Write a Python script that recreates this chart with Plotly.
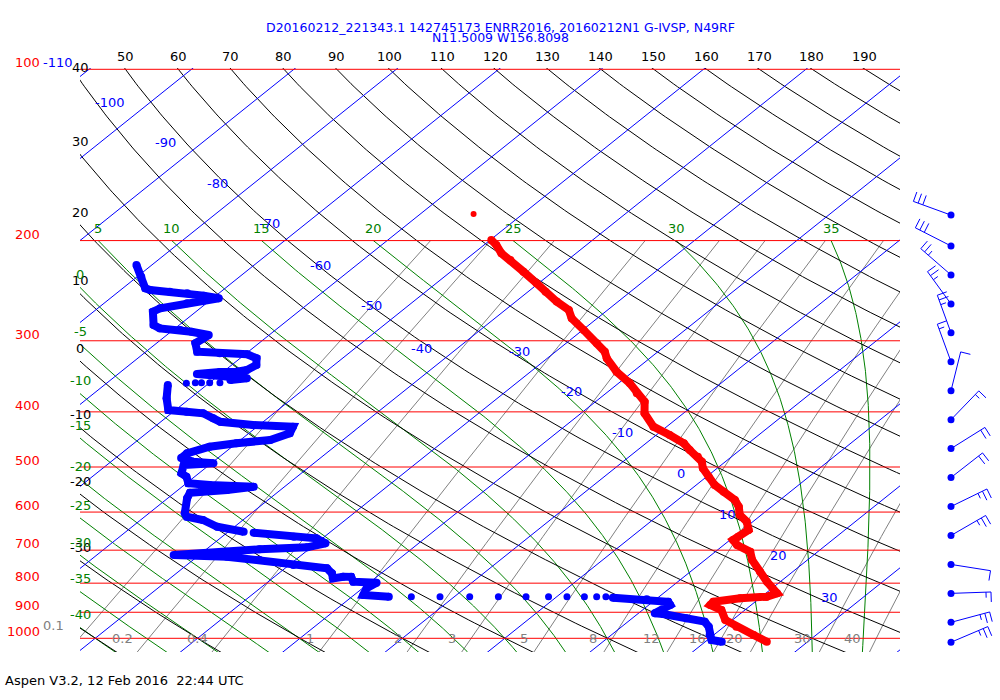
import numpy as np
import plotly.graph_objects as go

# ---------------- data ----------------
temp_p = [199.5, 203.6, 210.5, 216.3, 226.8, 237.7, 245.9, 256.0, 264.8, 273.9,
          287.2, 303.0, 313.5, 322.0, 340.0, 356.3, 371.0, 383.9, 402.3, 424.7,
          439.2, 454.2, 466.8, 479.5, 489.3, 502.5, 520.0, 537.8, 552.6, 571.4,
          587.1, 607.1, 623.8, 645.1, 662.8, 671.8, 685.5, 704.3, 728.4, 763.8,
          795.3, 833.5, 845.1, 850.5, 862.4, 874.0, 891.9, 928.6, 954.1, 986.7,
          1013.8]
temp_t = [-49.9, -48.8, -47.3, -45.6, -42.9, -40.2, -38.3, -36.0, -33.8, -32.5,
          -29.9, -27.0, -25.2, -24.2, -21.6, -18.9, -17.0, -15.2, -13.8, -11.3,
          -8.7, -6.3, -4.9, -3.3, -2.3, -1.4, 0.2, 1.8, 3.5, 5.6,
          6.8, 7.9, 9.4, 10.6, 10.4, 10.3, 11.3, 13.4, 14.6, 16.8,
          18.7, 21.1, 20.5, 18.1, 15.9, 16.0, 17.7, 19.3, 21.2, 23.9,
          26.0]
temp_dot_p = [179.6]
temp_dot_t = [-54.8]

dew_p = [220.8, 231.5, 242.6, 244.3, 245.9, 247.5, 249.9, 252.6, 257.7, 263.0,
         266.7, 281.5, 285.3, 287.2, 289.2, 293.1, 303.0, 313.5, 315.6, 316.9,
         322.0, 330.9, 337.7, 340.0, 340.5, 343.2, 349.2, 351.6, None,
         358.8, 378.6, 397.0, 399.8, 402.3, 410.6, 416.3, 421.9, 424.7, 436.2,
         448.2, 454.2, 460.5, 473.0, 482.1, 489.3, 492.5, 495.9, 512.9, 520.0,
         534.1, 537.8, 541.6, 548.8, 554.8, 567.5, 603.0, 611.3, 619.6, 636.7,
         649.7, None,
         652.3, 662.8, 667.2, 680.8, 692.0, 697.6, 704.3, 713.8, 718.7, 728.4,
         743.3, 753.4, 768.8, 784.6, 779.4, 779.8, 795.3, 798.6, 816.8, 839.3,
         845.1, None,
         848.4, 854.1, 862.4, 874.0, 891.9, 903.9, 906.4, 922.4, 935.0, 954.1,
         986.7, 1007.0, 1013.8]
dew_t = [-81.5, -79.6, -77.8, -77.1, -75.0, -73.1, -71.2, -69.4, -71.9, -73.9,
         -74.2, -72.5, -71.5, -69.3, -68.0, -65.9, -66.2, -65.0, -62.6, -59.8,
         -58.4, -57.6, -57.9, -58.7, -60.3, -62.3, -56.9, -58.3, None,
         -63.8, -62.3, -60.7, -58.7, -56.9, -55.3, -54.2, -50.6, -46.5, -46.0,
         -47.1, -50.0, -52.2, -53.6, -53.6, -52.0, -49.8, -52.5, -51.7, -50.8,
         -49.8, -47.5, -43.0, -45.2, -48.5, -48.1, -46.5, -45.9, -43.9, -41.7,
         -38.5, None,
         -37.4, -33.0, -30.6, -29.1, -30.4, -34.8, -37.7, -42.5, -37.1, -33.5,
         -29.6, -25.9, -24.8, -24.1, -23.3, -22.5, -21.7, -19.3, -19.6, -19.1,
         -16.4, None,
         5.6, 9.1, 11.5, 12.1, 11.9, 11.6, 12.5, 15.3, 17.5, 18.5,
         19.6, 20.4, 21.6]
dew_dot_p = [355.4, 355.4, 355.4, 355.4, 356.3,
             845.1, 845.1, 845.1, 845.1, 845.1, 845.1, 845.1, 845.1, 845.1, 845.1]
dew_dot_t = [-59.0, -60.0, -60.8, -61.4, -62.2,
             -14.2, -11.4, -8.5, -5.7, -3.0, -0.8, 1.0, 2.7, 3.9, 4.8]

wind_p = [180.4, 204.4, 229.8, 258.5, 290.5, 326.6, 367.2, 412.8,
          464.1, 521.8, 586.7, 659.6, 741.6, 833.8, 937.4, 1016.0]
wind_dir = [290, 297, 311, 324, 340, 340, 14, 44, 58, 52, 64, 60, 99, 88, 75, 67]
wind_spd = [30, 30, 25, 25, 25, 15, 10, 15, 20, 20, 25, 25, 10, 15, 25, 25]

isobar_levels = [100, 200, 300, 400, 500, 600, 700, 800, 900, 1000]
isotherm_values = list(range(-120, 50, 10))
iso_label_t = [-110, -100, -90, -80, -70, -60, -50, -40, -30, -20, -10, 0, 10, 20, 30]
iso_label_p = [97.1, 114.2, 134.7, 159.0, 187.0, 220.8, 260.6, 308.9,
               313.9, 369.0, 435.7, 514.3, 607.1, 716.7, 846.2]
theta_values = list(range(-40, 200, 10))
theta_top_labels = list(range(50, 200, 10))
theta_left_labels = [40, 30, 20, 10, 0, -10, -20, -30]
thetaw_values = list(range(-40, 40, 5))
thetaw_top_labels = [5, 10, 15, 20, 25, 30, 35]
thetaw_left_labels = [0, -5, -10, -15, -20, -25, -30, -35, -40]
mixr_values = [0.1, 0.2, 0.4, 1, 2, 3, 5, 8, 12, 16, 20, 30, 40]
mixr_labels = ["0.1", "0.2", "0.4", "1", "2", "3", "5", "8", "12", "16", "20", "30", "40"]

title_line1 = "D20160212_221343.1 142745173 ENRR2016, 20160212N1 G-IVSP, N49RF"
title_line2 = "N11.5009 W156.8098"
footer_text = "Aspen V3.2, 12 Feb 2016 \u00a022:44 UTC"

# ---------------- geometry ----------------
W, H = 1000, 700
ML, MR, MT, MB = 80, 0, 68, 48
PLOT_W = W - ML - MR
PLOT_H = H - MT - MB
PXDEC = 569.0
Y100 = 69.3
LOG_TOP = 2 - (Y100 - MT) / PXDEC
LOG_BOT = LOG_TOP + PLOT_H / PXDEC
PX_PER_C = 10.24
X0PX = 504.8
SKEW = 69.40
RIGHT_PX = 900.0
XL = (ML - X0PX) / PX_PER_C
XR = (RIGHT_PX - X0PX) / PX_PER_C
KAPPA = 0.2875
P_TOP_EXT, P_BOT_EXT = 95.0, 1075.0

FONT = "DejaVu Sans"
RED, BLUE, GREEN, GRAY, BLACK = "#ff0000", "#0000ff", "#008000", "#808080", "#000000"


def skew_x(t, p):
    return np.asarray(t, float) - SKEW * np.log10(np.asarray(p, float) / 1000.0)


def paper_x(px):
    return (px - ML) / PLOT_W


def paper_y(py):
    return (H - MB - py) / PLOT_H


def data_to_paper(xv, pv):
    return paper_x(X0PX + xv * PX_PER_C), paper_y(Y100 + PXDEC * np.log10(pv / 100.0))


def join(curves):
    xs, ys = [], []
    for x, y in curves:
        xs += list(x) + [None]
        ys += list(y) + [None]
    return xs, ys


# thermodynamics
RD, CP, LV, EPS = 287.04, 1005.7, 2.501e6, 0.622


def esat(tc):
    return 6.112 * np.exp(17.67 * tc / (tc + 243.5))


def moist_dtdp(tk, p):
    es = esat(tk - 273.15)
    r = EPS * es / (p - es)
    num = (RD * tk + LV * r) / p
    den = CP + (LV * LV * r * EPS) / (RD * tk * tk)
    return num / den


def integrate(t0, p0, p1, n):
    ps = np.linspace(p0, p1, n)
    ts = [t0]
    for i in range(n - 1):
        p, h, t = ps[i], ps[i + 1] - ps[i], ts[-1]
        k1 = moist_dtdp(t, p)
        k2 = moist_dtdp(t + h / 2 * k1, p + h / 2)
        k3 = moist_dtdp(t + h / 2 * k2, p + h / 2)
        k4 = moist_dtdp(t + h * k3, p + h)
        ts.append(t + h / 6 * (k1 + 2 * k2 + 2 * k3 + k4))
    return ps, np.array(ts)


def moist_curve(tw):
    pu, tu = integrate(tw + 273.15, 1000.0, 200.0, 321)
    pd, td = integrate(tw + 273.15, 1000.0, P_BOT_EXT, 31)
    p = np.concatenate([pu[::-1], pd[1:]])
    t = np.concatenate([tu[::-1], td[1:]]) - 273.15
    return p, t


def dry_curve(theta):
    p = np.logspace(np.log10(P_TOP_EXT), np.log10(P_BOT_EXT), 200)
    t = (theta + 273.15) * (p / 1000.0) ** KAPPA - 273.15
    return p, t


def mixr_curve(w):
    p = np.logspace(np.log10(200.0), np.log10(P_BOT_EXT), 60)
    e = w * p / (622.0 + w)
    lg = np.log(e / 6.112)
    t = 243.5 * lg / (17.67 - lg)
    return p, t


def left_cross(p, t):
    x = skew_x(t, p)
    order = np.argsort(x)
    return float(10 ** np.interp(XL, x[order], np.log10(p)[order]))


fig = go.Figure()

# mixing ratio lines
curves = []
for w in mixr_values:
    p, t = mixr_curve(w)
    curves.append((skew_x(t, p), p))
xs, ys = join(curves)
fig.add_trace(go.Scatter(x=xs, y=ys, mode="lines", line=dict(color=GRAY, width=1), hoverinfo="skip"))

# moist adiabats
curves = []
moist = {}
for tw in thetaw_values:
    p, t = moist_curve(tw)
    moist[tw] = (p, t)
    curves.append((skew_x(t, p), p))
xs, ys = join(curves)
fig.add_trace(go.Scatter(x=xs, y=ys, mode="lines", line=dict(color=GREEN, width=1), hoverinfo="skip"))

# dry adiabats
curves = []
dry = {}
for th in theta_values:
    p, t = dry_curve(th)
    dry[th] = (p, t)
    curves.append((skew_x(t, p), p))
xs, ys = join(curves)
fig.add_trace(go.Scatter(x=xs, y=ys, mode="lines", line=dict(color=BLACK, width=1), hoverinfo="skip"))

# isotherms
curves = []
for tv in isotherm_values:
    p = np.array([P_TOP_EXT, P_BOT_EXT])
    curves.append((skew_x([tv, tv], p), p))
xs, ys = join(curves)
fig.add_trace(go.Scatter(x=xs, y=ys, mode="lines", line=dict(color=BLUE, width=1), hoverinfo="skip"))

# isobars
curves = [([XL - 1, XR + 1], [pv, pv]) for pv in isobar_levels]
xs, ys = join(curves)
fig.add_trace(go.Scatter(x=xs, y=ys, mode="lines", line=dict(color=RED, width=1), hoverinfo="skip"))


# profiles
def prof_x(t, p):
    return [None if (a is None) else float(skew_x(a, b)) for a, b in zip(t, p)]


fig.add_trace(go.Scatter(x=prof_x(dew_t, dew_p), y=dew_p, mode="lines+markers",
                         line=dict(color=BLUE, width=8), marker=dict(color=BLUE, size=8),
                         hoverinfo="skip"))
fig.add_trace(go.Scatter(x=prof_x(dew_dot_t, dew_dot_p), y=dew_dot_p, mode="markers",
                         marker=dict(color=BLUE, size=7), hoverinfo="skip"))
fig.add_trace(go.Scatter(x=prof_x(temp_t, temp_p), y=temp_p, mode="lines+markers",
                         line=dict(color=RED, width=8), marker=dict(color=RED, size=8),
                         hoverinfo="skip"))
fig.add_trace(go.Scatter(x=prof_x(temp_dot_t, temp_dot_p), y=temp_dot_p, mode="markers",
                         marker=dict(color=RED, size=6), hoverinfo="skip"))

# wind barbs (x2 axis in pixel units, y = pressure)
BX = 951.0
STAFF, FULL, HALF, GAP = 40.0, 10.0, 5.5, 5.0
bx, by = [], []


def seg(x1, dy1, x2, dy2, p):
    bx.extend([x1, x2, None])
    by.extend([p * 10 ** (dy1 / PXDEC), p * 10 ** (dy2 / PXDEC), None])


for p, d, s in zip(wind_p, wind_dir, wind_spd):
    r = np.deg2rad(d)
    ux, uy = np.sin(r), -np.cos(r)
    vx, vy = -uy, ux
    seg(BX, 0.0, BX + STAFF * ux, STAFF * uy, p)
    nf, nh = s // 10, 1 if s % 10 >= 5 else 0
    pos = STAFF
    for _ in range(nf):
        x1, y1 = BX + pos * ux, pos * uy
        seg(x1, y1, x1 + FULL * vx, y1 + FULL * vy, p)
        pos -= GAP
    if nh:
        if nf == 0:
            pos -= GAP
        x1, y1 = BX + pos * ux, pos * uy
        seg(x1, y1, x1 + HALF * vx, y1 + HALF * vy, p)

fig.add_trace(go.Scatter(x=bx, y=by, xaxis="x2", mode="lines", line=dict(color=BLUE, width=1),
                         hoverinfo="skip"))
fig.add_trace(go.Scatter(x=[BX] * len(wind_p), y=wind_p, xaxis="x2", mode="markers",
                         marker=dict(color=BLUE, size=7), hoverinfo="skip"))

# ---------------- labels ----------------
ann = []


def label_paper(x, y, text, color, xanchor="center", yshift=0, size=13):
    ann.append(dict(x=x, y=y, xref="paper", yref="paper", text=text, showarrow=False,
                    xanchor=xanchor, yanchor="middle", yshift=yshift,
                    font=dict(family=FONT, size=size, color=color)))


def label_data(xv, pv, text, color, xanchor="center", yshift=0, size=13):
    px_, py_ = data_to_paper(float(xv), float(pv))
    label_paper(px_, py_, text, color, xanchor=xanchor, yshift=yshift, size=size)


for pv in isobar_levels:
    _, py_ = data_to_paper(0.0, pv)
    label_paper(paper_x(42), py_, str(pv), RED, xanchor="right", yshift=6.5)

for tv, pv in zip(iso_label_t, iso_label_p):
    label_data(float(skew_x(tv, pv)) - 23.5 / PX_PER_C, pv, str(tv), BLUE, xanchor="right")

for th in theta_top_labels:
    tt = (th + 273.15) * (100 / 1000.0) ** KAPPA - 273.15
    label_data(float(skew_x(tt, 100.0)), 100.0, str(th), BLACK, yshift=12.5)

for th in theta_left_labels:
    p, t = dry[th]
    label_data(XL, left_cross(p, t), str(th), BLACK, yshift=13)

for tw in thetaw_top_labels:
    p, t = moist[tw]
    label_data(float(skew_x(t[0], p[0])), 200.0, str(tw), GREEN, yshift=12)

for tw in thetaw_left_labels:
    p, t = moist[tw]
    label_data(XL, left_cross(p, t), str(tw), GREEN, yshift=13)

for w, txt in zip(mixr_values, mixr_labels):
    e = w * 1000.0 / (622.0 + w)
    lg = np.log(e / 6.112)
    t = 243.5 * lg / (17.67 - lg)
    pl = 948.0 if txt == "0.1" else 1000.0
    label_data(float(skew_x(t, 1000.0)) - 1.3, pl, txt, GRAY, xanchor="right")

label_paper(paper_x(500), paper_y(27), title_line1, BLUE, size=12.5)
label_paper(paper_x(500), paper_y(37.5), title_line2, BLUE, size=12.5)
label_paper(paper_x(3), paper_y(680), footer_text, BLACK, xanchor="left")

fig.update_layout(
    width=W, height=H, margin=dict(l=ML, r=MR, t=MT, b=MB, pad=0),
    paper_bgcolor="white", plot_bgcolor="white", showlegend=False,
    xaxis=dict(range=[XL, XR], domain=[0, (RIGHT_PX - ML) / PLOT_W], visible=False, fixedrange=True),
    xaxis2=dict(range=[RIGHT_PX, W], domain=[(RIGHT_PX - ML) / PLOT_W, 1.0], anchor="y",
                visible=False, fixedrange=True),
    yaxis=dict(type="log", range=[LOG_BOT, LOG_TOP], visible=False, fixedrange=True),
    annotations=ann,
)

fig.write_html("out.html", config={"displayModeBar": False},
               post_script="document.body.style.margin='0px';document.body.style.padding='0px';")
